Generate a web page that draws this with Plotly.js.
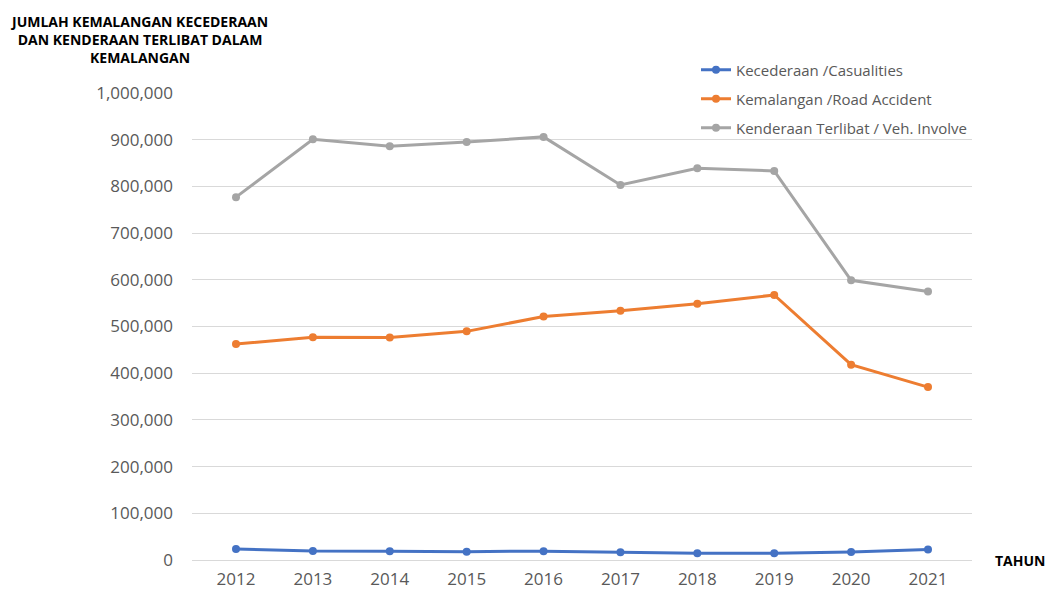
<!DOCTYPE html>
<html>
<head>
<meta charset="utf-8">
<script src="https://cdn.plot.ly/plotly-3.0.1.min.js"></script>
<style>html,body{margin:0;padding:0;background:#fff;}#chart{width:1049px;height:591px;}</style>
</head>
<body>
<div id="chart"></div>
<script>
const years = ["2012","2013","2014","2015","2016","2017","2018","2019","2020","2021"];
const casualties = [23600, 19300, 19000, 17900, 19000, 16500, 14300, 14500, 17000, 22500];
const roadAccident = [462423, 477204, 476196, 489606, 521466, 533875, 548598, 567516, 418237, 370286];
const vehInvolved = [777000, 901000, 886000, 895000, 906000, 803000, 839000, 833000, 599000, 575000];
const seriesNames = ["Kecederaan /Casualities", "Kemalangan /Road Accident", "Kenderaan Terlibat / Veh. Involve"];
const colors = ["#4472C4", "#ED7D31", "#A5A5A5"];
const yTicks = [0,100000,200000,300000,400000,500000,600000,700000,800000,900000,1000000];

const font = "Open Sans, Noto Sans, sans-serif";
const legendIds = ["legend", "legend2", "legend3"];
const legendY = [70, 99, 128];
const data = [casualties, roadAccident, vehInvolved].map((vals, i) => ({
  x: years, y: vals, name: seriesNames[i], type: "scatter", mode: "lines+markers",
  legend: legendIds[i],
  line: {color: colors[i], width: 3}, marker: {color: colors[i], size: 8}
}));

const layout = {
  width: 1049, height: 591,
  margin: {l: 192, r: 77, t: 93, b: 31},
  paper_bgcolor: "#fff", plot_bgcolor: "#fff",
  font: {family: font, color: "#595959", size: 17},
  showlegend: true,
  xaxis: {type: "category", showgrid: false, showline: false, zeroline: false, ticks: "",
          tickfont: {size: 17, color: "#595959"}, ticklabelstandoff: 7, fixedrange: true, automargin: false},
  yaxis: {range: [0, 1000000], tickvals: yTicks, tickformat: ",d", showgrid: true,
          gridcolor: "#D9D9D9", gridwidth: 1, zeroline: true, zerolinecolor: "#D9D9D9",
          zerolinewidth: 1, showline: false, ticks: "", tickfont: {size: 17, color: "#595959"},
          ticklabelstandoff: 18, automargin: false},
  annotations: [
    {text: "<b>JUMLAH KEMALANGAN KECEDERAAN<br>DAN KENDERAAN TERLIBAT DALAM<br>KEMALANGAN</b>",
     xref: "paper", yref: "paper", x: (139-192)/780, y: (560-10)/467, xanchor: "center", yanchor: "top",
     showarrow: false, align: "center", font: {size: 14, color: "#000", family: font}},
    {text: "<b>TAHUN</b>", xref: "paper", yref: "paper", x: (1047-192)/780, y: 0,
     xanchor: "right", yanchor: "middle", showarrow: false, font: {size: 14, color: "#000", family: font}}
  ]
};
legendIds.forEach((id, i) => {
  layout[id] = {x: (696-192)/780, y: (560-legendY[i])/467, xanchor: "left", yanchor: "middle",
    bgcolor: "rgba(0,0,0,0)", font: {size: 15, color: "#595959", family: font}, itemwidth: 30};
});
Plotly.newPlot("chart", data, layout, {displayModeBar: false, staticPlot: true});
</script>
</body>
</html>
